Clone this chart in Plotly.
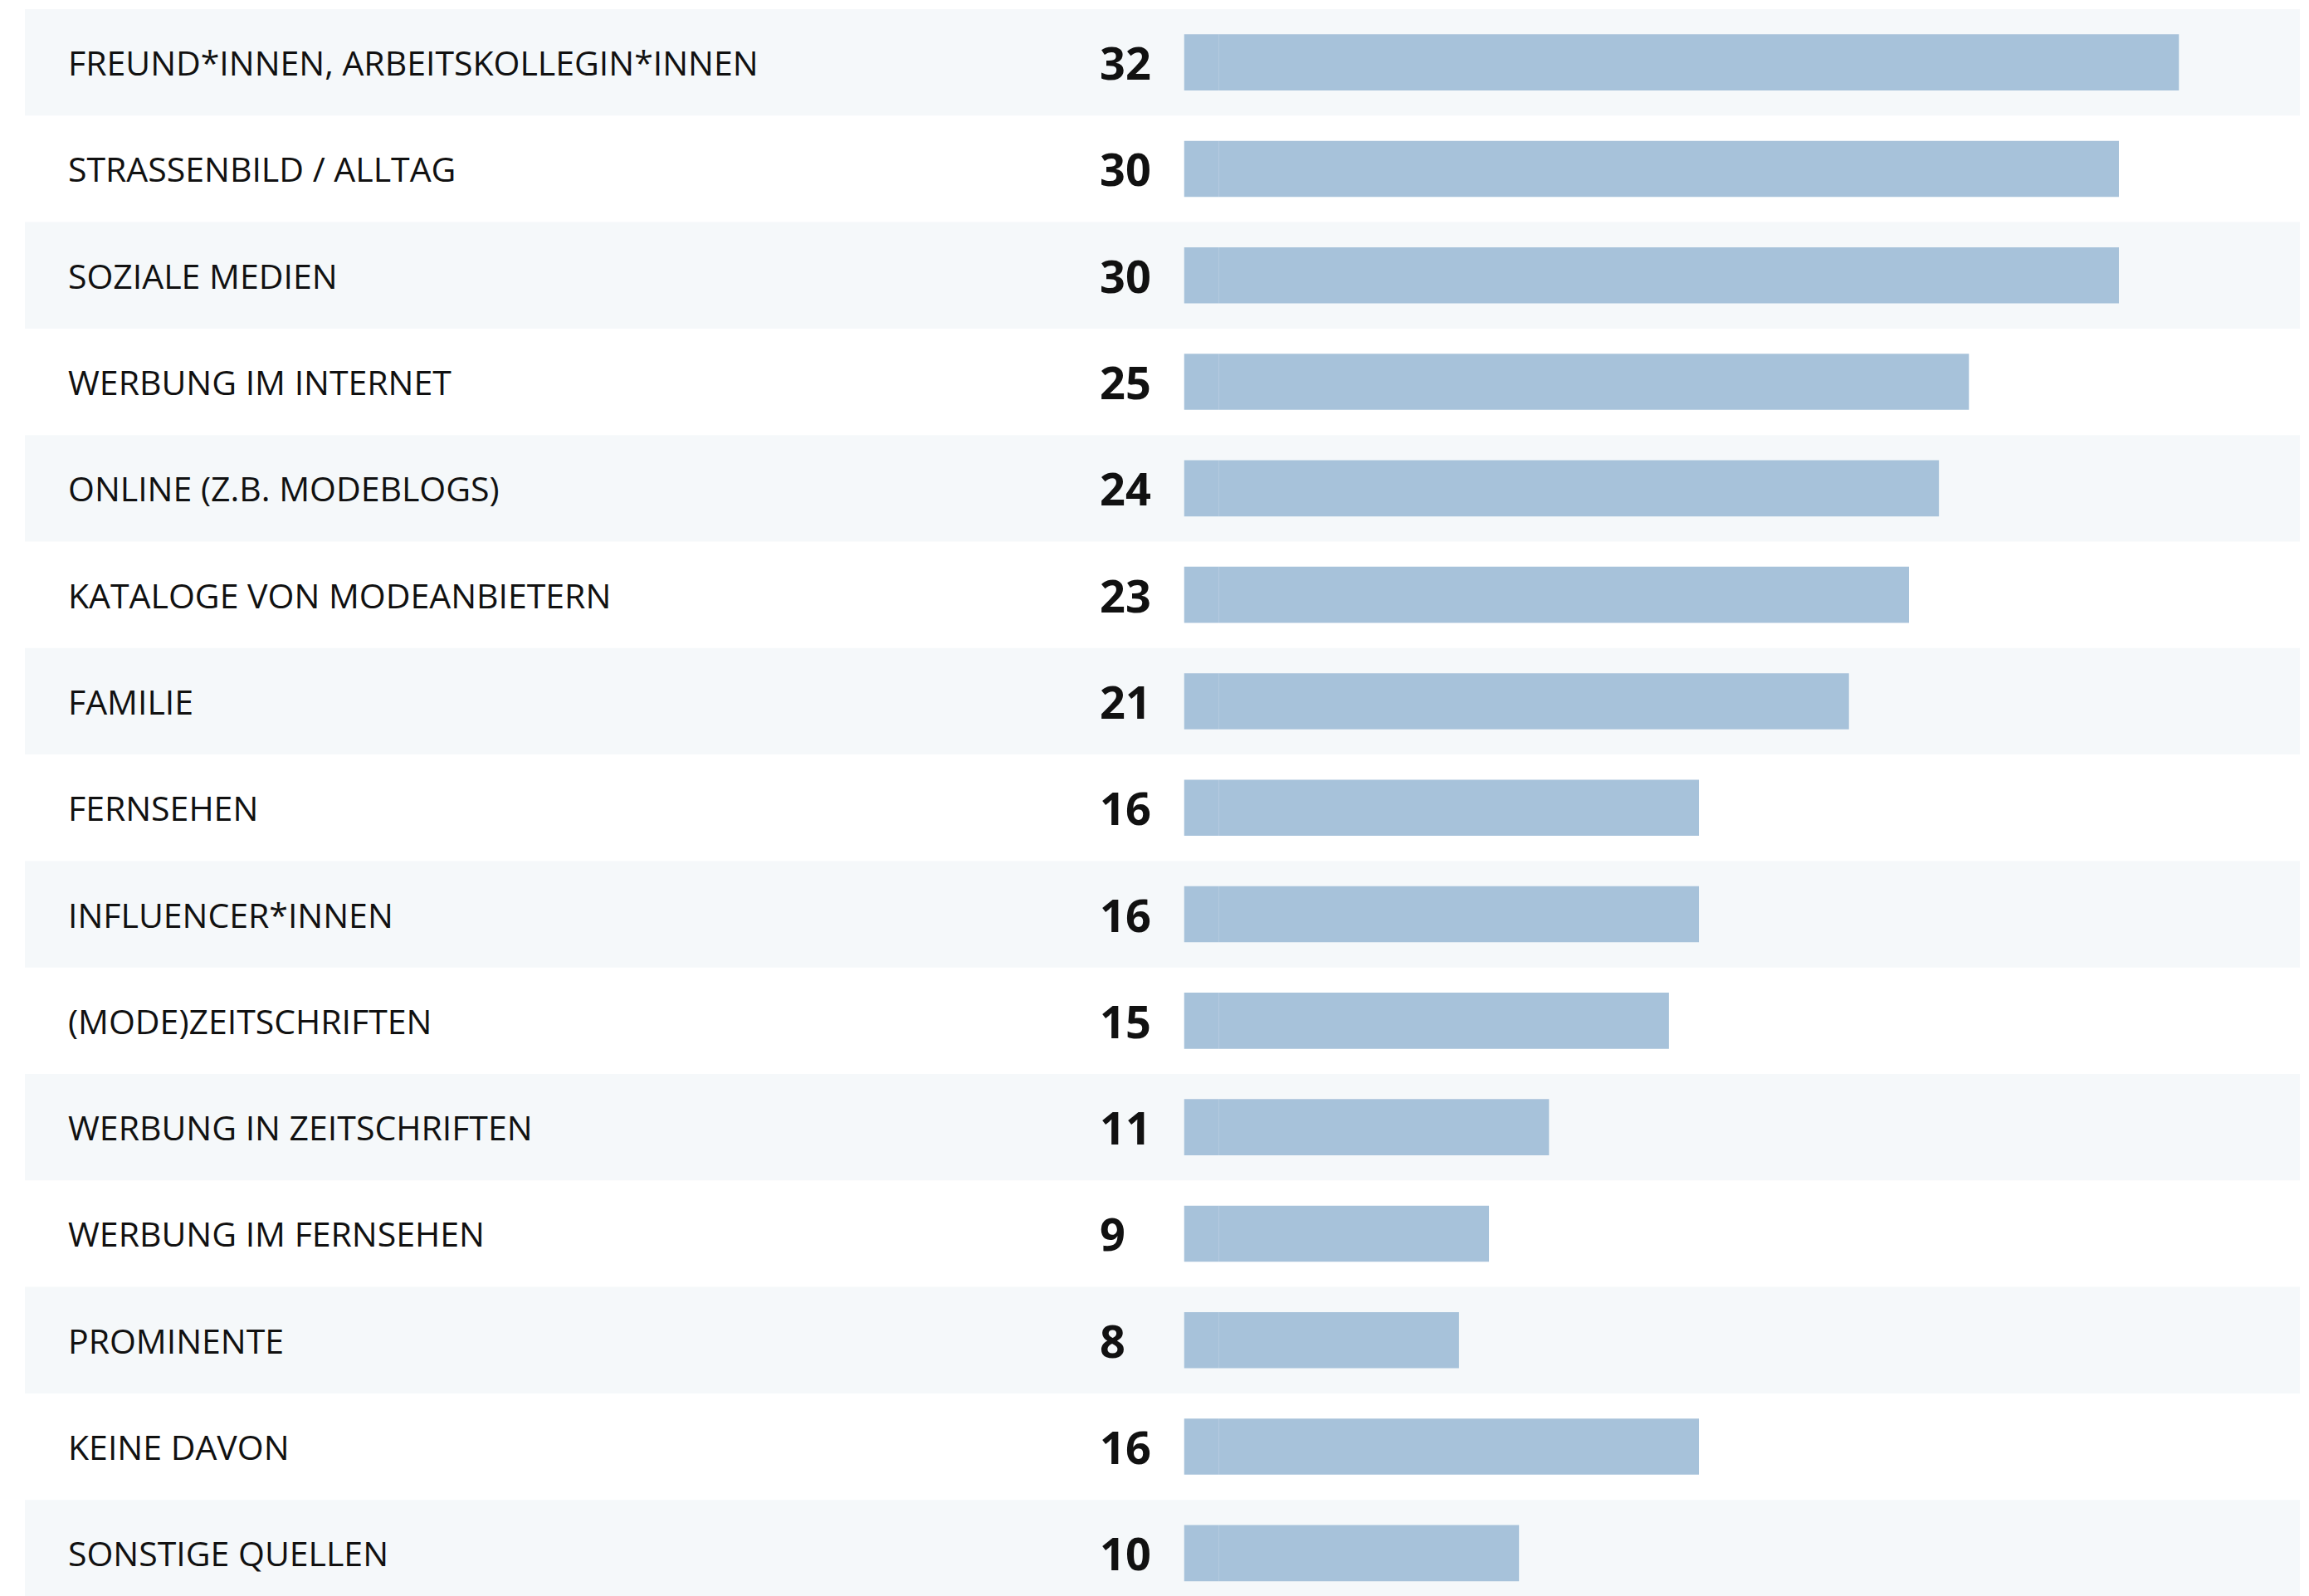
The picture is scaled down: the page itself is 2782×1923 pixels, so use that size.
import plotly.graph_objects as go

# ---- data ----
categories = [
    "FREUND*INNEN, ARBEITSKOLLEGIN*INNEN",
    "STRASSENBILD / ALLTAG",
    "SOZIALE MEDIEN",
    "WERBUNG IM INTERNET",
    "ONLINE (Z.B. MODEBLOGS)",
    "KATALOGE VON MODEANBIETERN",
    "FAMILIE",
    "FERNSEHEN",
    "INFLUENCER*INNEN",
    "(MODE)ZEITSCHRIFTEN",
    "WERBUNG IN ZEITSCHRIFTEN",
    "WERBUNG IM FERNSEHEN",
    "PROMINENTE",
    "KEINE DAVON",
    "SONSTIGE QUELLEN",
]
values = [32, 30, 30, 25, 24, 23, 21, 16, 16, 15, 11, 9, 8, 16, 10]

# ---- styling / geometry ----
W, H = 2782, 1923
BAR_COLOR = "#a7c2da"
STRIPE_COLOR = "#f5f8fa"
TEXT_COLOR = "#111111"
FONT = "Open Sans"

row_px = 128.3          # pixel height of one row
top_px = 11             # top of first row
bar_start_px = 1426.5   # left edge of bars
px_per_unit = 36.14
stub = 1.17             # small lead-in before zero (as in reference)

n = len(categories)
y_top = -0.5 - top_px / row_px
y_bottom = y_top + H / row_px
x_left = -stub
x_right = -stub + (W - bar_start_px) / px_per_unit
rows = list(range(n))

fig = go.Figure()
# constant lead-in stub, same colour as bars
fig.add_trace(go.Bar(
    x=[stub] * n, y=rows, base=-stub, orientation="h",
    marker=dict(color=BAR_COLOR, line=dict(width=0)),
    width=0.527, hoverinfo="skip", showlegend=False,
))
# value bars
fig.add_trace(go.Bar(
    x=values, y=rows, orientation="h",
    marker=dict(color=BAR_COLOR, line=dict(width=0)),
    width=0.527, hoverinfo="skip", showlegend=False,
))

shapes = []
for i in range(0, n, 2):
    shapes.append(dict(
        type="rect", xref="paper", yref="y",
        x0=30 / W, x1=2771 / W, y0=i - 0.5, y1=i + 0.5,
        fillcolor=STRIPE_COLOR, line=dict(width=0), layer="below",
    ))

annotations = []
for i, (cat, v) in enumerate(zip(categories, values)):
    annotations.append(dict(
        x=80 / W, xref="paper", y=i, yref="y",
        text=cat, showarrow=False, xanchor="left", yanchor="middle",
        font=dict(family=FONT, size=41, color=TEXT_COLOR),
    ))
    annotations.append(dict(
        x=1323 / W, xref="paper", y=i, yref="y",
        text="<b>%d</b>" % v, showarrow=False, xanchor="left", yanchor="middle",
        font=dict(family=FONT, size=54, color=TEXT_COLOR),
    ))

fig.update_layout(
    width=W, height=H,
    margin=dict(l=0, r=0, t=0, b=0, pad=0),
    paper_bgcolor="white",
    plot_bgcolor="rgba(0,0,0,0)",
    barmode="overlay",
    shapes=shapes,
    annotations=annotations,
    xaxis=dict(domain=[bar_start_px / W, 1], range=[x_left, x_right],
               showgrid=False, zeroline=False, showticklabels=False,
               showline=False, fixedrange=True),
    yaxis=dict(range=[y_bottom, y_top], showgrid=False, zeroline=False,
               showticklabels=False, showline=False, fixedrange=True),
)

fig.write_html(
    "out.html",
    config={"displayModeBar": False, "staticPlot": True},
    post_script="document.body.style.margin='0';document.body.style.overflow='hidden';",
)
